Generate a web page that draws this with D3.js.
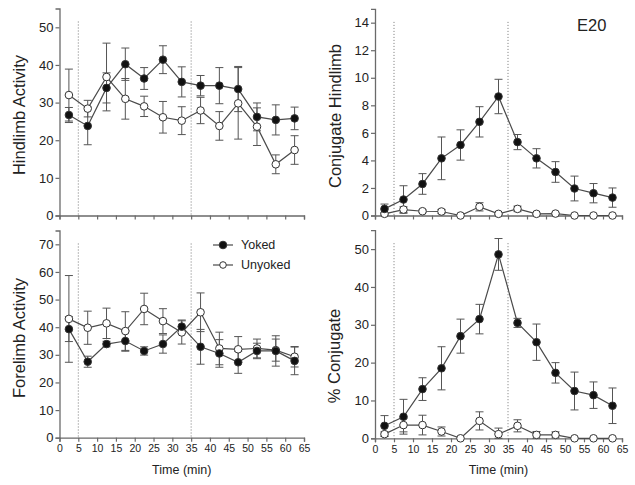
<!DOCTYPE html>
<html><head><meta charset="utf-8">
<script src="https://cdn.jsdelivr.net/npm/d3@7"></script>
<style>
body{margin:0;background:#fff;}
svg{display:block;font-family:"Liberation Sans",Arial,Helvetica,sans-serif;}
</style></head>
<body><svg id="chart" width="635" height="485"></svg>
<script>
// ---- DATA ----
const times = [2.5, 7.5, 12.5, 17.5, 22.5, 27.5, 32.5, 37.5, 42.5, 47.5, 52.5, 57.5, 62.5];
const xTicks = [0,5,10,15,20,25,30,35,40,45,50,55,60,65];
const markerLines = [5, 35];
const seriesNames = ["Yoked", "Unyoked"];

const hindYoked      = [26.7, 23.8, 33.9, 40.2, 36.4, 41.4, 35.5, 34.5, 34.5, 33.6, 26.2, 25.4, 25.8];
const hindYokedErr   = [2.0, 5.0, 4.0, 4.3, 2.9, 3.7, 4.0, 2.7, 4.8, 6.0, 3.7, 4.0, 3.0];
const hindUnyoked    = [32.0, 28.4, 36.8, 31.0, 29.0, 26.1, 25.2, 27.9, 23.8, 29.8, 23.6, 13.6, 17.4];
const hindUnyokedErr = [6.9, 2.2, 9.0, 5.4, 2.7, 4.2, 3.7, 3.5, 3.8, 9.5, 5.0, 2.5, 3.8];

const conjHindYoked      = [0.48, 1.16, 2.29, 4.15, 5.12, 6.8, 8.64, 5.33, 4.15, 3.16, 1.96, 1.62, 1.3];
const conjHindYokedErr   = [0.35, 1.0, 0.75, 1.55, 1.1, 1.1, 1.25, 0.55, 0.7, 0.75, 0.9, 0.7, 0.7];
const conjHindUnyoked    = [0.12, 0.43, 0.31, 0.29, 0.0, 0.63, 0.12, 0.48, 0.12, 0.14, 0.0, 0.0, 0.0];
const conjHindUnyokedErr = [0.1, 0.2, 0.1, 0.15, 0.0, 0.3, 0.05, 0.2, 0.05, 0.05, 0.0, 0.0, 0.0];

const foreYoked      = [39.3, 27.5, 33.9, 35.0, 31.4, 33.9, 40.2, 32.9, 30.5, 27.3, 31.4, 31.4, 27.8];
const foreYokedErr   = [4.5, 2.0, 1.0, 3.7, 1.5, 3.3, 2.4, 6.3, 5.0, 4.0, 2.8, 5.5, 5.0];
const foreUnyoked    = [43.0, 39.8, 41.4, 38.6, 46.6, 42.2, 38.1, 45.4, 32.3, 32.0, 32.3, 31.7, 29.3];
const foreUnyokedErr = [15.7, 6.0, 5.5, 7.0, 5.7, 4.5, 4.2, 7.0, 5.9, 4.6, 3.4, 4.0, 3.7];

const pctYoked      = [3.3, 5.7, 13.0, 18.5, 27.0, 31.5, 48.6, 30.5, 25.4, 17.3, 12.5, 11.4, 8.6];
const pctYokedErr   = [2.7, 4.6, 3.0, 5.7, 4.5, 3.9, 4.2, 1.2, 4.8, 2.7, 5.0, 3.5, 4.7];
const pctUnyoked    = [1.1, 3.5, 3.5, 1.8, 0.0, 4.6, 1.1, 3.3, 0.9, 0.9, 0.0, 0.0, 0.0];
const pctUnyokedErr = [0.6, 1.8, 2.6, 1.2, 0.0, 2.4, 1.6, 1.6, 0.9, 0.8, 0.0, 0.0, 0.0];

const hindTicks = [0,10,20,30,40,50];
const conjHindTicks = [0,2,4,6,8,10,12,14];
const foreTicks = [0,10,20,30,40,50,60,70];
const pctTicks = [0,10,20,30,40,50];

// ---- LAYOUT ----
const svg = d3.select("#chart");
const panels = [
  {yl:"Hindlimb Activity", ymax:55, ticks:hindTicks, y:hindYoked, ye:hindYokedErr, u:hindUnyoked, ue:hindUnyokedErr,
   x0:59.5, x1:304, y0:215.5, y1:8.5, xl:false, lx:19, ly:115},
  {yl:"Conjugate Hindlimb", ymax:15, ticks:conjHindTicks, y:conjHindYoked, ye:conjHindYokedErr, u:conjHindUnyoked, ue:conjHindUnyokedErr,
   x0:375, x1:622, y0:215.5, y1:8.9, xl:false, lx:335, ly:116},
  {yl:"Forelimb Activity", ymax:75, ticks:foreTicks, y:foreYoked, ye:foreYokedErr, u:foreUnyoked, ue:foreUnyokedErr,
   x0:59.5, x1:304, y0:437.7, y1:230.5, xl:true, lx:19, ly:338},
  {yl:"% Conjugate", ymax:55, ticks:pctTicks, y:pctYoked, ye:pctYokedErr, u:pctUnyoked, ue:pctUnyokedErr,
   x0:375, x1:622, y0:438.3, y1:230.2, xl:true, lx:334, ly:356}
];

const axisCol = "#6a6a6a", lineCol = "#4a4a4a", textCol = "#222";

panels.forEach(p => {
  const x = d3.scaleLinear().domain([0,65]).range([p.x0, p.x1]);
  const y = d3.scaleLinear().domain([0,p.ymax]).range([p.y0, p.y1]);
  const g = svg.append("g");

  // dotted marker lines
  markerLines.forEach(t => {
    g.append("line").attr("x1", x(t)).attr("x2", x(t))
      .attr("y1", p.y1 + 13).attr("y2", p.y0)
      .attr("stroke", "#777").attr("stroke-width", 1).attr("stroke-dasharray", "1,2");
  });

  // axes
  const xa = g.append("g").attr("transform", `translate(0,${p.y0})`)
    .call(d3.axisBottom(x).tickValues(xTicks).tickSize(4).tickPadding(3)
      .tickFormat(p.xl ? d3.format("d") : ""));
  const ya = g.append("g").attr("transform", `translate(${p.x0},0)`)
    .call(d3.axisLeft(y).tickValues(p.ticks).tickSize(4).tickPadding(2));
  [xa, ya].forEach(a => {
    a.select(".domain").attr("stroke", axisCol).attr("stroke-width", 1.3);
    a.selectAll(".tick line").attr("stroke", axisCol).attr("stroke-width", 1.2);
  });
  xa.selectAll("text").attr("fill", textCol).style("font-size", "10.5px");
  ya.selectAll("text").attr("fill", textCol).style("font-size", "13px");

  // y label
  g.append("text").attr("transform", `translate(${p.lx},${p.ly}) rotate(-90)`)
    .attr("text-anchor", "middle").attr("dominant-baseline", "central")
    .attr("fill", textCol).style("font-size", "16.5px").text(p.yl);
  if (p.xl) {
    g.append("text").attr("x", (p.x0 + p.x1) / 2 - (p.x0 < 100 ? 0 : 0)).attr("y", 474)
      .attr("text-anchor", "middle").attr("fill", textCol).style("font-size", "12.5px").text("Time (min)");
  }

  const line = d3.line().x((d,i) => x(times[i])).y(d => y(d));
  // draw unyoked first then yoked? draw both lines then markers
  [[p.u, p.ue, false], [p.y, p.ye, true]].forEach(([vals, errs, filled]) => {
    const s = g.append("g");
    s.append("path").datum(vals).attr("d", line).attr("fill", "none")
      .attr("stroke", lineCol).attr("stroke-width", 1.2);
    vals.forEach((v, i) => {
      const e = errs[i];
      if (e > 0) {
        const cx = x(times[i]);
        s.append("line").attr("x1", cx).attr("x2", cx).attr("y1", y(v + e)).attr("y2", y(Math.max(0, v - e)))
          .attr("stroke", "#555").attr("stroke-width", 1);
        [v + e, Math.max(0, v - e)].forEach(ev => {
          s.append("line").attr("x1", cx - 4).attr("x2", cx + 4).attr("y1", y(ev)).attr("y2", y(ev))
            .attr("stroke", "#555").attr("stroke-width", 1);
        });
      }
    });
  });
  [[p.u, false], [p.y, true]].forEach(([vals, filled]) => {
    g.append("g").selectAll("circle").data(vals).join("circle")
      .attr("cx", (d,i) => x(times[i])).attr("cy", d => y(d)).attr("r", 3.8)
      .attr("fill", filled ? "#111" : "#fff").attr("stroke", "#333").attr("stroke-width", 1);
  });
});

// legend
const leg = svg.append("g");
seriesNames.forEach((name, i) => {
  const ly = 245 + i * 20;
  leg.append("line").attr("x1", 213).attr("x2", 233).attr("y1", ly).attr("y2", ly)
    .attr("stroke", lineCol).attr("stroke-width", 1.2);
  leg.append("circle").attr("cx", 223).attr("cy", ly).attr("r", i === 0 ? 3.8 : 3.3)
    .attr("fill", i === 0 ? "#111" : "#fff").attr("stroke", "#333").attr("stroke-width", 1);
  leg.append("text").attr("x", 241).attr("y", ly).attr("dominant-baseline", "central")
    .attr("fill", textCol).style("font-size", "12.5px").text(name);
});

// E20 label
svg.append("text").attr("x", 577).attr("y", 25).attr("dominant-baseline", "central")
  .attr("fill", textCol).style("font-size", "16.5px").text("E20");
</script></body></html>
